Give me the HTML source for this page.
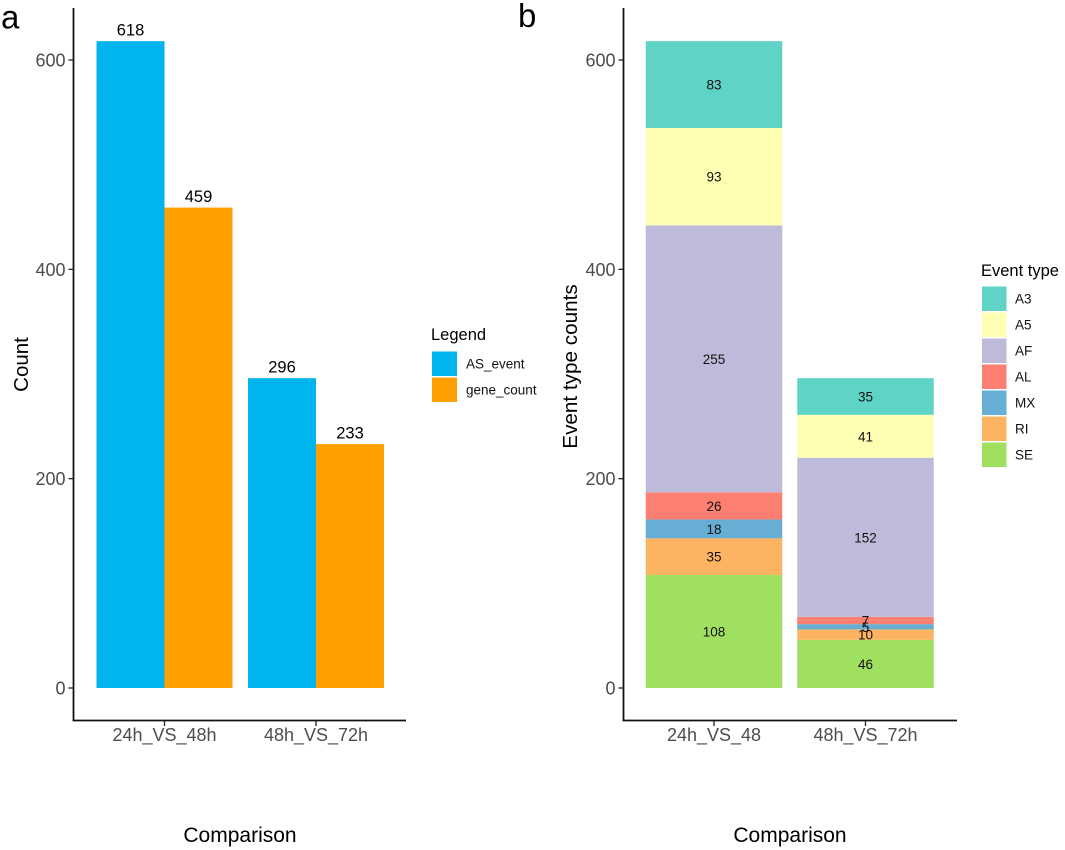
<!DOCTYPE html>
<html lang="en">
<head>
<meta charset="utf-8">
<title>AS event counts</title>
<style>
html,body{margin:0;padding:0;background:#fff;width:1065px;height:850px;overflow:hidden}
svg{display:block;font-family:"Liberation Sans",Arial,sans-serif}
</style>
</head>
<body>
<svg id="chart" width="1065" height="850" viewBox="0 0 1065 850" xmlns="http://www.w3.org/2000/svg"></svg>
<script>
const categoriesA = ['24h_VS_48h', '48h_VS_72h'];
const asEventValues = [618, 296];
const geneCountValues = [459, 233];
const seriesNamesA = ['AS_event', 'gene_count'];
const seriesColorsA = ['#00B4EE', '#FF9F00'];

const categoriesB = ['24h_VS_48', '48h_VS_72h'];
const eventTypes = ['A3', 'A5', 'AF', 'AL', 'MX', 'RI', 'SE'];
const eventColors = ['#5FD4C6', '#FFFFB3', '#BEBADA', '#FB8072', '#66AED3', '#FDB462', '#A0E060'];
const valuesA3 = [83, 35];
const valuesA5 = [93, 41];
const valuesAF = [255, 152];
const valuesAL = [26, 7];
const valuesMX = [18, 5];
const valuesRI = [35, 10];
const valuesSE = [108, 46];

const yTicks = [0, 200, 400, 600];

const svg = document.getElementById('chart');
const NS = 'http://www.w3.org/2000/svg';

function y(v) { return 688 - v * (628 / 600); }
function xA(i) { return 164.5 + i * 151.5; }
function xB(i) { return 714 + i * 151.5; }

function shape(tag, attrs, parent) {
  const el = document.createElementNS(NS, tag);
  for (const k in attrs) el.setAttribute(k, attrs[k]);
  (parent || svg).appendChild(el);
  return el;
}
function label(str, x, yy, size, fill, anchor, parent, transform) {
  const el = shape('text', { x: x, y: yy, 'font-size': size, fill: fill, 'text-anchor': anchor || 'middle' }, parent);
  if (transform) el.setAttribute('transform', transform);
  el.textContent = str;
  return el;
}
function group(name) {
  const g = shape('g', {});
  
  
  return g;
}

function axes(prefix, x0, x1, tickXs, cats) {
  const g = group(prefix + '-axes');
  const yAxis = shape('line', { x1: x0, x2: x0, y1: 8, y2: 721, stroke: '#111', 'stroke-width': 1.8 }, g);
  
  
  const xAxis = shape('line', { x1: x0 - 0.9, x2: x1, y1: 720.5, y2: 720.5, stroke: '#111', 'stroke-width': 1.8 }, g);
  
  
  yTicks.forEach(function (t) {
    const tick = shape('line', { x1: x0 - 5, x2: x0, y1: y(t), y2: y(t), stroke: '#222', 'stroke-width': 1.3 }, g);
    
    
    const tl = label(String(t), x0 - 8, y(t) + 6.5, 18, '#4D4D4D', 'end', g);
    
    
  });
  cats.forEach(function (c, i) {
    const tick = shape('line', { x1: tickXs(i), x2: tickXs(i), y1: 721, y2: 726, stroke: '#222', 'stroke-width': 1.3 }, g);
    
    
    const tl = label(c, tickXs(i), 741, 18, '#4D4D4D', 'middle', g);
    
    
  });
}

/* Panel a */
const panelA = group('panel-a');
const barWidthA = 68;
[asEventValues, geneCountValues].forEach(function (vals, s) {
  vals.forEach(function (v, i) {
    const left = xA(i) - barWidthA + s * barWidthA;
    const bar = shape('rect', { x: left, y: y(v), width: barWidthA, height: y(0) - y(v), fill: seriesColorsA[s] }, panelA);
    
    
    const val = label(String(v), left + barWidthA / 2, y(v) - 5.5, 16.5, '#000', 'middle', panelA);
    
    
  });
});
axes('panel-a', 73.5, 406, xA, categoriesA);

/* Panel b */
const panelB = group('panel-b');
const seriesB = [valuesA3, valuesA5, valuesAF, valuesAL, valuesMX, valuesRI, valuesSE];
const barWidthB = 136.5;
categoriesB.forEach(function (c, i) {
  let base = 0;
  for (let s = seriesB.length - 1; s >= 0; s--) {
    const v = seriesB[s][i];
    const seg = shape('rect', { x: xB(i) - barWidthB / 2, y: y(base + v), width: barWidthB, height: y(base) - y(base + v), fill: eventColors[s] }, panelB);
    
    
    base += v;
  }
  base = 0;
  for (let s = seriesB.length - 1; s >= 0; s--) {
    const v = seriesB[s][i];
    const val = label(String(v), xB(i), y(base + v / 2) + 5, 13.5, '#111', 'middle', panelB);
    
    
    base += v;
  }
});
axes('panel-b', 623.5, 957, xB, categoriesB);

/* Titles */
const titles = group('titles');
[
  ['panel-a-letter', 'a', 1, 28.5, 33, 'start', null],
  ['panel-b-letter', 'b', 518, 27, 33, 'start', null],
  ['panel-a-x-title', 'Comparison', 240, 842, 21, 'middle', null],
  ['panel-b-x-title', 'Comparison', 790, 842, 21, 'middle', null],
  ['panel-a-y-title', 'Count', 28, 364.5, 20.5, 'middle', 'rotate(-90 28 364.5)'],
  ['panel-b-y-title', 'Event type counts', 577, 366.5, 20.7, 'middle', 'rotate(-90 577 366.5)']
].forEach(function (t) {
  const el = label(t[1], t[2], t[3], t[4], '#000', t[5], titles, t[6]);
  
  
});

/* Legend a */
const legendA = group('legend-a');
const legendATitle = label('Legend', 431, 340, 16.5, '#000', 'start', legendA);


seriesNamesA.forEach(function (n, i) {
  const top = 351.5 + i * 26;
  const sw = shape('rect', { x: 432, y: top, width: 25, height: 24.5, fill: seriesColorsA[i] }, legendA);
  
  
  const t = label(n, 466, top + 17, 13.5, '#111', 'start', legendA);
  
  
});

/* Legend b */
const legendB = group('legend-b');
const legendBTitle = label('Event type', 981, 276, 16.5, '#000', 'start', legendB);


eventTypes.forEach(function (n, i) {
  const top = 286.5 + i * 26;
  const sw = shape('rect', { x: 982, y: top, width: 24.5, height: 24.5, fill: eventColors[i] }, legendB);
  
  
  const t = label(n, 1015, top + 17, 13.5, '#111', 'start', legendB);
  
  
});
</script>
</body>
</html>
